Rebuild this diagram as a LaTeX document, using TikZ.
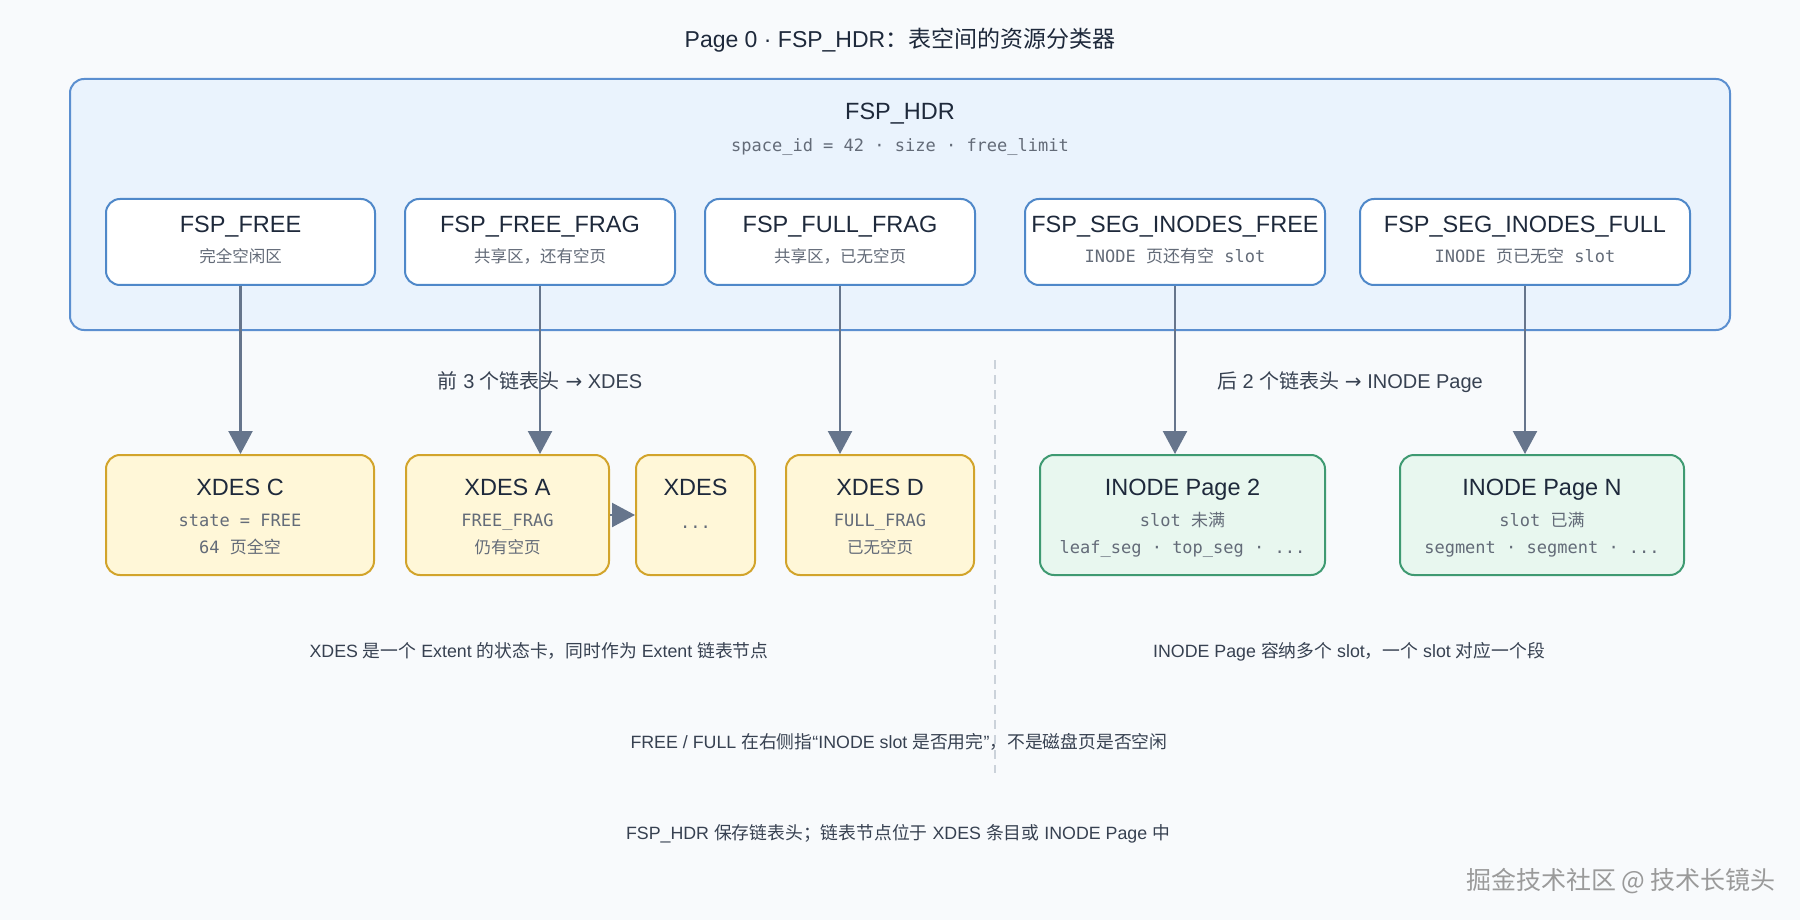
\documentclass[tikz,border=0pt]{standalone}
\usepackage{fontspec}
\setmainfont{Liberation Sans}
\newfontfamily\zhfont{Noto Sans CJK SC}
\newfontfamily\mymono{DejaVu Sans Mono}
\newfontfamily\symfont{DejaVu Sans}
\usetikzlibrary{arrows.meta}
\newcommand\zhs[1]{{\zhfont #1}}
\definecolor{bgc}{HTML}{F8FAFC}
\definecolor{titlec}{HTML}{1E293B}
\definecolor{textc}{HTML}{374151}
\definecolor{subc}{HTML}{636B78}
\definecolor{contfill}{HTML}{EAF3FD}
\definecolor{contdraw}{HTML}{5B8FD0}
\definecolor{topdraw}{HTML}{4F88C9}
\definecolor{xfill}{HTML}{FFF7D8}
\definecolor{xdraw}{HTML}{D2A42B}
\definecolor{ifill}{HTML}{E8F7EF}
\definecolor{idraw}{HTML}{3F9A72}
\definecolor{arrowc}{HTML}{66758C}
\definecolor{divc}{HTML}{CBD2DA}
\definecolor{wmc}{HTML}{9A9A9A}
\tikzset{
  container/.style={draw=contdraw, fill=contfill, line width=2pt, rounded corners=14pt, inner sep=0pt},
  topbox/.style={draw=topdraw, fill=white, line width=2pt, rounded corners=14pt, inner sep=0pt, minimum height=86pt},
  xbox/.style={draw=xdraw, fill=xfill, line width=2pt, rounded corners=14pt, inner sep=0pt, minimum height=120pt},
  ibox/.style={draw=idraw, fill=ifill, line width=2pt, rounded corners=14pt, inner sep=0pt, minimum height=120pt},
  boxtitle/.style={font=\fontsize{23.5}{28}\selectfont, text=titlec, inner sep=0pt, text height=17pt, text depth=5pt},
  monosub/.style={font=\fontsize{17}{20}\selectfont\mymono, text=subc, inner sep=0pt, text height=13pt, text depth=4pt},
  zhsub/.style={font=\fontsize{16.5}{20}\selectfont\zhfont, text=subc, inner sep=0pt, text height=13pt, text depth=4pt},
  lbl/.style={font=\fontsize{20}{24}\selectfont, text=textc, inner sep=0pt, text height=14pt, text depth=4pt},
  note/.style={font=\fontsize{17.8}{21}\selectfont, text=textc, inner sep=0pt, text height=13pt, text depth=4pt},
  arr/.style={draw=arrowc, line width=2.3pt, -{Triangle[length=23pt,width=24pt]}},
  divider/.style={draw=divc, line width=1.6pt, dash pattern=on 9pt off 6pt},
}
\begin{document}
\begin{tikzpicture}[x=1pt,y=-1pt]
\fill[bgc] (0,0) rectangle (1800,920);
\useasboundingbox (0,0) rectangle (1800,920);

% title
\node[font=\fontsize{23}{27}\selectfont, text=titlec, inner sep=0pt] (title) at (900,40) {Page 0 · FSP\_HDR\zhs{：表空间的资源分类器}};

% container
\node[container, minimum width=1660pt, minimum height=251pt] (hdr) at (900,204.5) {};
\node[boxtitle] (hdrt) at (900,114) {FSP\_HDR};
\node[monosub] (hdrs) at (900,147) {space\_id = 42 · size · free\_limit};

% top boxes
\node[topbox, minimum width=269pt] (f1) at (240.5,242) {};
\node[topbox, minimum width=270pt] (f2) at (540,242) {};
\node[topbox, minimum width=270pt] (f3) at (840,242) {};
\node[topbox, minimum width=300pt] (f4) at (1175,242) {};
\node[topbox, minimum width=330pt] (f5) at (1525,242) {};

\node[boxtitle] (f1t) at (240.5,227) {FSP\_FREE};
\node[zhsub] (f1s) at (240.5,258) {完全空闲区};
\node[boxtitle] (f2t) at (540,227) {FSP\_FREE\_FRAG};
\node[zhsub] (f2s) at (540,258) {共享区，还有空页};
\node[boxtitle] (f3t) at (840,227) {FSP\_FULL\_FRAG};
\node[zhsub] (f3s) at (840,258) {共享区，已无空页};
\node[boxtitle] (f4t) at (1175,227) {FSP\_SEG\_INODES\_FREE};
\node[monosub] (f4s) at (1175,258) {INODE\ \zhs{页还有空}\ slot};
\node[boxtitle] (f5t) at (1525,227) {FSP\_SEG\_INODES\_FULL};
\node[monosub] (f5s) at (1525,258) {INODE\ \zhs{页已无空}\ slot};

% divider
\coordinate (dtop) at (995,360);
\coordinate (dbot) at (995,773);
\draw[divider] (dtop) -- (dbot);

% labels
\node[lbl] (lblL) at (540,383) {\zhs{前} 3 \zhs{个链表头} {\symfont →} XDES};
\node[lbl] (lblR) at (1350,383) {\zhs{后} 2 \zhs{个链表头} {\symfont →} INODE Page};

% lower boxes
\node[xbox, minimum width=268pt] (xc) at (240,515) {};
\node[xbox, minimum width=203pt] (xa) at (507.5,515) {};
\node[xbox, minimum width=119pt] (xm) at (695.5,515) {};
\node[xbox, minimum width=188pt] (xd) at (880,515) {};
\node[ibox, minimum width=285pt] (i2) at (1182.5,515) {};
\node[ibox, minimum width=284pt] (iN) at (1542,515) {};

\node[boxtitle] (xct) at (240,489) {XDES C};
\node[monosub] (xcs) at (240,522) {state = FREE};
\node[monosub] (xcu) at (240,549) {64\ \zhs{页全空}};

\node[boxtitle] (xat) at (507.5,489) {XDES A};
\node[monosub] (xas) at (507.5,522) {FREE\_FRAG};
\node[zhsub] (xau) at (507.5,549) {仍有空页};

\node[boxtitle] (xmt) at (695.5,489) {XDES};
\node[monosub] (xms) at (695.5,524) {...};

\node[boxtitle] (xdt) at (880,489) {XDES D};
\node[monosub] (xds) at (880,522) {FULL\_FRAG};
\node[zhsub] (xdu) at (880,549) {已无空页};

\node[boxtitle] (i2t) at (1182.5,489) {INODE Page 2};
\node[monosub] (i2s) at (1182.5,522) {slot\ \zhs{未满}};
\node[monosub] (i2u) at (1182.5,549) {leaf\_seg · top\_seg · ...};

\node[boxtitle] (iNt) at (1542,489) {INODE Page N};
\node[monosub] (iNs) at (1542,522) {slot\ \zhs{已满}};
\node[monosub] (iNu) at (1542,549) {segment · segment · ...};

% arrows
\draw[arr] (f1.south) -- (f1.south |- xc.north);
\draw[arr] (f2.south) -- (f2.south |- xa.north);
\draw[arr] (f3.south) -- (f3.south |- xd.north);
\draw[arr] (f4.south) -- (f4.south |- i2.north);
\draw[arr] (f5.south) -- (f5.south |- iN.north);
\draw[arr] (xa.east) -- (xm.west);

% notes
\node[note] (n1) at (539,653) {XDES \zhs{是一个} Extent \zhs{的状态卡，同时作为} Extent \zhs{链表节点}};
\node[note] (n2) at (1349,653) {INODE Page \zhs{容纳多个} slot\zhs{，一个} slot \zhs{对应一个段}};
\node[note] (n3) at (899,744) {FREE / FULL \zhs{在右侧指}“INODE slot \zhs{是否用完}”\zhs{，不是磁盘页是否空闲}};
\node[note] (n4) at (898,835) {FSP\_HDR \zhs{保存链表头；链表节点位于} XDES \zhs{条目或} INODE Page \zhs{中}};

% watermark
\node[font=\fontsize{25}{29}\selectfont\zhfont, text=wmc, inner sep=0pt] (wm) at (1621,881) {掘金技术社区 @ 技术长镜头};
\end{tikzpicture}
\end{document}
